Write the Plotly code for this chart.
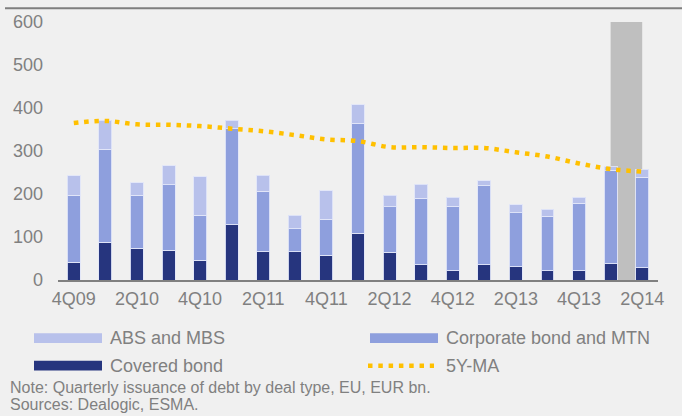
import plotly.graph_objects as go

quarters = ["4Q09", "1Q10", "2Q10", "3Q10", "4Q10", "1Q11", "2Q11", "3Q11", "4Q11",
            "1Q12", "2Q12", "3Q12", "4Q12", "1Q13", "2Q13", "3Q13", "4Q13", "1Q14", "2Q14"]
covered_bond = [41, 88, 74, 69, 46, 129, 66, 66, 57, 109, 64, 35, 21, 36, 31, 21, 21, 38, 28]
corporate_mtn = [156, 216, 123, 153, 105, 223, 140, 53, 84, 256, 106, 155, 151, 183, 125, 127, 157, 217, 211]
abs_mbs = [46, 67, 29, 44, 89, 20, 38, 32, 67, 43, 27, 33, 21, 12, 19, 16, 15, 8, 19]
ma_5y = [365, 370, 362, 361, 358, 352, 346, 337, 327, 323, 309, 309, 307, 307, 297, 287, 271, 258, 252]
tick_labels = quarters[::2]
y_ticks = [0, 100, 200, 300, 400, 500, 600]
highlight_from, highlight_to, highlight_top = "1Q14", "2Q14", 600

C_ABS = "#B8C1EB"
C_CORP = "#8E9FDD"
C_COV = "#26357E"
C_MA = "#FFC000"
C_GREY = "#808080"
BG = "#F0F0F0"
FONT = "Liberation Sans, Arial, sans-serif"
DOTS = "4.5px,5.8px"

fig = go.Figure()
edge = dict(color="rgba(225,230,248,0.9)", width=1)
fig.add_trace(go.Bar(x=quarters, y=covered_bond, name="Covered bond", marker=dict(color=C_COV, line=edge)))
fig.add_trace(go.Bar(x=quarters, y=corporate_mtn, name="Corporate bond and MTN", marker=dict(color=C_CORP, line=edge)))
fig.add_trace(go.Bar(x=quarters, y=abs_mbs, name="ABS and MBS", marker=dict(color=C_ABS, line=edge)))
fig.add_trace(go.Scatter(x=quarters, y=ma_5y, name="5Y-MA", mode="lines",
                         line=dict(color=C_MA, width=4.5, dash=DOTS, shape="spline")))

# plot area in pixels: x 58..658, y 18..280
L, R, T, B = 58, 658, 18, 280
W, H = 682, 416
def px(x):
    return (x - L) / (R - L)
def py(y):
    return (B - y) / (B - T)

shapes = [
    dict(type="rect", xref="x", yref="y",
         x0=quarters.index(highlight_from), x1=quarters.index(highlight_to),
         y0=0, y1=highlight_top, fillcolor="#BFBFBF", line=dict(width=0), layer="below"),
    # top rule
    dict(type="line", xref="paper", yref="paper", x0=px(5), x1=px(682), y0=py(4), y1=py(4),
         line=dict(color="#7F7F7F", width=2)),
]
annotations = []

legend_items = [
    ("ABS and MBS", C_ABS, "bar", 34, 339),
    ("Corporate bond and MTN", C_CORP, "bar", 370, 339),
    ("Covered bond", C_COV, "bar", 34, 367),
    ("5Y-MA", C_MA, "dot", 370, 367),
]
for label, color, kind, x0, yc in legend_items:
    if kind == "bar":
        shapes.append(dict(type="rect", xref="paper", yref="paper", x0=px(x0), x1=px(x0 + 68),
                           y0=py(yc + 5), y1=py(yc - 5), fillcolor=color, line=dict(width=0)))
    else:
        shapes.append(dict(type="line", xref="paper", yref="paper", x0=px(x0 - 2), x1=px(x0 + 64),
                           y0=py(yc), y1=py(yc), line=dict(color=color, width=4.5, dash=DOTS)))
    annotations.append(dict(text=label, xref="paper", yref="paper", x=px(x0 + 74), y=py(yc),
                            xanchor="left", yanchor="middle", showarrow=False,
                            font=dict(family=FONT, size=18, color=C_GREY)))

notes = ["Note: Quarterly issuance of debt by deal type, EU, EUR bn.", "Sources: Dealogic, ESMA."]
for i, note in enumerate(notes):
    annotations.append(dict(text=note, xref="paper", yref="paper", x=px(8), y=py(389 + 17 * i),
                            xanchor="left", yanchor="middle", showarrow=False,
                            font=dict(family=FONT, size=16, color=C_GREY)))

fig.update_layout(
    width=W, height=H,
    margin=dict(l=L, r=W - R, t=T, b=H - B, pad=0),
    paper_bgcolor=BG, plot_bgcolor=BG,
    barmode="stack", bargap=0.59,
    showlegend=False,
    font=dict(family=FONT, color=C_GREY, size=18),
    shapes=shapes, annotations=annotations,
    xaxis=dict(type="category", categoryorder="array", categoryarray=quarters,
               tickmode="array", tickvals=tick_labels, ticktext=tick_labels,
               showline=True, linecolor=C_GREY, linewidth=2, ticks="", showgrid=False,
               zeroline=False, tickfont=dict(size=18, color=C_GREY), ticklabelstandoff=1),
    yaxis=dict(range=[0, 600], tickvals=y_ticks, showgrid=False, zeroline=False, showline=False,
               ticks="", tickfont=dict(size=18, color=C_GREY), ticklabelstandoff=14),
)

fig.write_html("out.html", config={"displayModeBar": False},
               post_script="document.body.style.margin='0';document.body.style.padding='0';"
                           "document.body.style.background='" + BG + "';")
